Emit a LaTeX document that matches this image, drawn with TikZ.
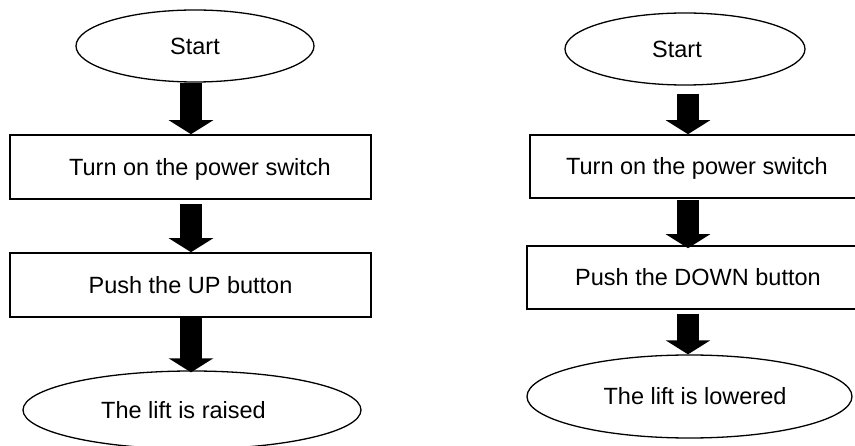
\documentclass[tikz,border=0pt]{standalone}
\usepackage{fontspec}
\setmainfont{Liberation Sans}
\usetikzlibrary{shapes.geometric,arrows.meta}
\tikzset{
  flowtext/.style={font=\fontsize{23.5}{28}\selectfont, text height=17pt, text depth=0pt, inner sep=0pt},
  stepbox/.style={flowtext, draw, line width=1.6pt, rectangle, minimum height=64pt},
  terminal/.style={flowtext, draw, line width=1.3pt, ellipse},
  flowarrow/.style={line width=22pt, line cap=butt, -{Triangle[width=44pt,length=14pt]}}
}
\begin{document}
\begin{tikzpicture}[x=1pt,y=-1pt]
\useasboundingbox (0,0) rectangle (855,446);
\clip (0,0) rectangle (855,446);
% left flow
\node[terminal, minimum width=238pt, minimum height=72pt] (s1) at (195,46) {Start};
\node[stepbox, minimum width=361pt] (b1) at (190.5,167) {\hspace*{19pt}Turn on the power switch};
\node[stepbox, minimum width=361pt] (b2) at (190.5,285) {Push the UP button};
\node[terminal, minimum width=338pt, minimum height=78pt] (e1) at (192,410) {The lift is raised\hspace*{17pt}};
\coordinate (lx) at (191,0);
\draw[flowarrow] (s1.south -| lx) -- (b1.north -| lx);
\draw[flowarrow, shorten <=4pt] (b1.south -| lx) -- (b2.north -| lx);
\draw[flowarrow] (b2.south -| lx) -- ([yshift=-2pt]e1.north -| lx);
% right flow
\node[terminal, minimum width=240pt, minimum height=72pt] (s2) at (685,49) {Start\hspace*{16pt}};
\node[stepbox, minimum width=334pt, minimum height=63pt] (b3) at (697,166.5) {Turn on the power switch};
\node[stepbox, minimum width=342pt, minimum height=63pt] (b4) at (698,277.5) {Push the DOWN button};
\node[terminal, minimum width=325pt, minimum height=83pt] (e2) at (689.5,396.5) {\hspace*{11pt}The lift is lowered};
\coordinate (rx) at (688,0);
\draw[flowarrow, shorten <=8pt] (s2.south -| rx) -- (b3.north -| rx);
\draw[flowarrow, shorten <=1pt] (b3.south -| rx) -- ([yshift=-3pt]b4.north -| rx);
\draw[flowarrow, shorten <=4pt] (b4.south -| rx) -- (e2.north -| rx);
\end{tikzpicture}
\end{document}
